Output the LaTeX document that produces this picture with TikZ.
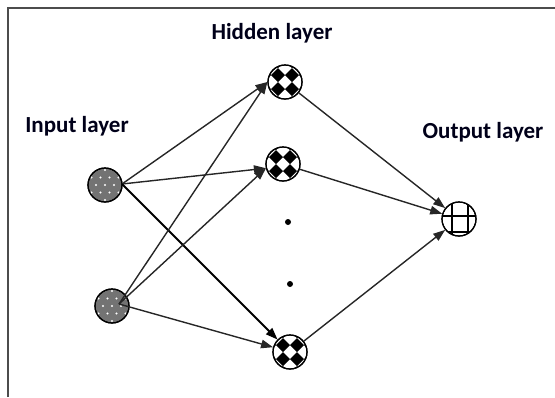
\documentclass[tikz,border=0pt]{standalone}
\usepackage{fontspec}
\setmainfont{Carlito}
\usetikzlibrary{arrows.meta}
\newcommand\myDiamondFill[1]{%
  \begin{scope}
    \clip (#1.center) circle (16.5pt);
    \foreach \a in {-3,-1,1,3} {\foreach \b in {-3,-1,1,3} {
      \fill[shift={(#1.center)}] (\a*7+7,\b*7) -- (\a*7,\b*7+7) -- (\a*7-7,\b*7) -- (\a*7,\b*7-7) -- cycle;}}
  \end{scope}}
\newcommand\myDotFill[1]{%
  \begin{scope}
    \clip (#1.center) circle (16.5pt);
    \foreach \b in {-2,...,2} {\foreach \a in {-2,...,2} {
      \fill[white, shift={(#1.center)}] ({\a*9+mod(abs(\b),2)*4.5},{\b*7.5}) circle (1.2pt);}}
  \end{scope}}
\newcommand\myGridFill[1]{%
  \begin{scope}
    \clip (#1.center) circle (16.5pt);
    \draw[line width=1.3pt, shift={(#1.center)}] (-7,-17) -- (-7,17) (9,-17) -- (9,17) (-17,-3) -- (17,-3) (-17,13) -- (17,13);
  \end{scope}}
\begin{document}
\begin{tikzpicture}[x=1pt,y=-1pt,
  lbl/.style={font=\fontsize{23}{27}\selectfont\bfseries, anchor=base, inner sep=0pt, text=black!90!blue},
  neuron/.style={circle, draw=black, line width=1.2pt, minimum size=34pt, inner sep=0pt, fill=white},
  conn/.style={line width=1.4pt, draw=black!85, -{Triangle[length=12pt,width=8.5pt]}},
  dotnode/.style={circle, fill=black, inner sep=0pt, minimum size=6pt},
  frame/.style={draw=gray!60!black, line width=1.6pt}
]
\useasboundingbox (0,0) rectangle (555,397);
\draw[frame] (8,397) -- (8,8) -- (555,8);

\node[lbl] (lin) at (77,132) {Input layer};
\node[lbl] (lhid) at (272,39) {Hidden layer};
\node[lbl] (lout) at (483,138) {Output layer};

\node[neuron, fill=black!55] (i1) at (105,185) {};
\node[neuron, fill=black!55] (i2) at (112,306) {};
\node[neuron] (h1) at (285,82) {};
\node[neuron] (h2) at (283,164) {};
\node[neuron] (h3) at (290,352) {};
\node[neuron] (out) at (459,219) {};
\node[dotnode] (d1) at (288,222) {};
\node[dotnode] (d2) at (290,284) {};

\myDotFill{i1}
\myDotFill{i2}
\myDiamondFill{h1}
\myDiamondFill{h2}
\myDiamondFill{h3}
\myGridFill{out}
\foreach \n in {i1,i2,h1,h2,h3,out} {\draw[line width=1.2pt] (\n.center) circle (17pt);}

\coordinate (i1o) at (122,184);
\coordinate (i2o) at (119,304);
\draw[conn] (i1o) -- (h1.west);
\draw[conn] (i1o) -- (h2.194);
\draw[conn, line width=2pt, draw=black] (i1o) -- (h3);
\draw[conn] (i2o) -- (h1.west);
\draw[conn] (i2o) -- (h2.194);
\draw[conn] (i2o) -- (h3);
\draw[conn] (h1) -- (out);
\draw[conn] (h2) -- (out);
\draw[conn] (h3) -- (out);
\end{tikzpicture}
\end{document}
